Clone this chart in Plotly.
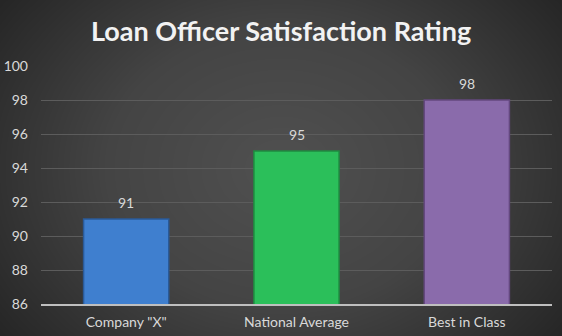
import numpy as np
import plotly.graph_objects as go

# Chart data
categories = ['Company "X"', "National Average", "Best in Class"]
ratings = [91, 95, 98]
bar_colors = ["#3f7fcf", "#2bbf5a", "#8a6bab"]
edge_colors = ["#2a5a98", "#1f8a40", "#64487f"]
y_ticks = [86, 88, 90, 92, 94, 96, 98, 100]

W, H = 562, 336
FONT = "Lato, Open Sans, sans-serif"

# Soft radial backdrop (lighter centre, darker corners)
gx = np.linspace(0, 1, 80)
gy = np.linspace(0, 1, 60)
XX, YY = np.meshgrid(gx, gy)
dist = np.sqrt(((XX - 0.5) * 1.0) ** 2 + ((YY - 0.5) * 0.75) ** 2)
shade = np.clip(dist / 0.62, 0, 1)

fig = go.Figure()
fig.add_trace(go.Heatmap(
    x=gx, y=gy, z=shade, xaxis="x", yaxis="y",
    colorscale=[[0, "#505050"], [0.5, "#444444"], [1, "#262626"]],
    zmin=0, zmax=1, showscale=False, zsmooth="best", hoverinfo="skip",
))

fig.add_trace(go.Bar(
    x=categories, y=ratings, xaxis="x2", yaxis="y2",
    width=0.5,
    marker=dict(color=bar_colors, line=dict(color=edge_colors, width=1.5)),
    hoverinfo="skip",
))

# Value labels sitting above each bar
value_labels = [
    dict(
        x=c, y=v, xref="x2", yref="y2", text=str(v),
        showarrow=False, xanchor="center", yanchor="bottom", yshift=6,
        font=dict(family=FONT, size=14, color="#d9d9d9"),
    )
    for c, v in zip(categories, ratings)
]

x0, x1 = 41 / W, 552 / W
y0, y1 = (H - 304) / H, (H - 66) / H

fig.update_layout(
    width=W, height=H,
    margin=dict(l=0, r=0, t=0, b=0, autoexpand=False),
    paper_bgcolor="#2a2a2a",
    plot_bgcolor="rgba(0,0,0,0)",
    showlegend=False,
    xaxis=dict(domain=[0, 1], range=[0, 1], visible=False, fixedrange=True),
    yaxis=dict(domain=[0, 1], range=[0, 1], visible=False, fixedrange=True),
    xaxis2=dict(
        domain=[x0, x1], anchor="y2", automargin=False,
        showline=True, linecolor="#bfbfbf", linewidth=2,
        showgrid=False, ticks="",
        ticklabelstandoff=4,
        tickfont=dict(family=FONT, size=14, color="#d9d9d9"),
    ),
    yaxis2=dict(
        domain=[y0, y1], anchor="x2", automargin=False,
        range=[86, 100], tickvals=y_ticks,
        showgrid=True, gridcolor="#5c5c5c", gridwidth=1,
        zeroline=False, showline=False, ticks="",
        ticklabelstandoff=12,
        tickfont=dict(family=FONT, size=14, color="#d9d9d9"),
    ),
    annotations=[dict(
        text="<b>Loan Officer Satisfaction Rating</b>",
        x=0.5, y=(H - 30) / H, xref="paper", yref="paper",
        xanchor="center", yanchor="middle", showarrow=False,
        font=dict(family=FONT, size=27, color="#f2f2f2"),
    )] + value_labels,
)

fig.write_html("out.html")
